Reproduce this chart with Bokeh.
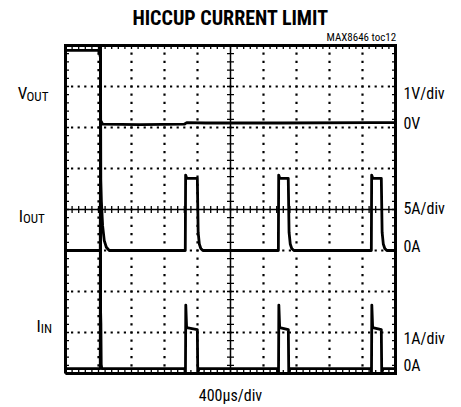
import numpy as np
from bokeh.plotting import figure
from bokeh.models import Range1d, Label
from bokeh.embed import file_html
from bokeh.resources import INLINE

# ---------------- data ----------------
US_PER_DIV = 400.0          # time base

# VOUT channel: 1V/div, 0V at division 6
VOUT_ZERO = 6.0
VOUT_SCALE = 1.0
vout_t = [0, 400, 416, 424, 426, 432, 450, 900, 1440, 1470, 1700, 2600, 3700, 4000]
vout_v = [1.88, 1.88, 1.78, 1.70, 0.05, 0.15, 0.08, 0.07, 0.08, 0.12, 0.11, 0.11, 0.12, 0.12]

# IOUT channel: 5A/div, 0A at division 3
IOUT_ZERO = 3.0
IOUT_SCALE = 5.0
iout_t = [0, 422, 424, 428, 435, 450, 470, 495, 530,
          1452, 1456, 1470, 1598, 1608, 1622, 1640, 1665,
          2580, 2584, 2598, 2700, 2710, 2724, 2742, 2768,
          3707, 3711, 3725, 3828, 3838, 3852, 3870, 3895, 4000]
iout_a = [0.0, 0.0, 25.0, 8.6, 6.0, 3.0, 1.2, 0.4, 0.0,
          0.0, 9.2, 8.8, 8.8, 2.2, 0.8, 0.25, 0.0,
          0.0, 9.2, 8.8, 8.8, 2.2, 0.8, 0.25, 0.0,
          0.0, 9.2, 8.8, 8.8, 2.2, 0.8, 0.25, 0.0, 0.0]

# IIN channel: 1A/div, 0A at division 0.12
IIN_ZERO = 0.12
IIN_SCALE = 1.0
iin_t = [0, 421, 424, 426, 429, 433, 440,
         1450, 1454, 1458, 1468, 1598, 1603, 1620,
         2578, 2582, 2586, 2596, 2701, 2706, 2723,
         3705, 3709, 3713, 3723, 3828, 3833, 3850, 4000]
iin_a = [0.0, 0.0, 7.85, 1.35, 1.1, 0.1, 0.0,
         0.0, -0.1, 1.55, 1.0, 0.95, -0.1, 0.0,
         0.0, -0.1, 1.55, 1.0, 0.95, -0.1, 0.0,
         0.0, -0.1, 1.55, 1.0, 0.95, -0.1, 0.0, 0.0]

title_text = "HICCUP CURRENT LIMIT"
tag_text = "MAX8646 toc12"
channel_names = [("V", "OUT"), ("I", "OUT"), ("I", "IN")]
scale_labels = ["1V/div", "5A/div", "1A/div"]
zero_labels = ["0V", "0A", "0A"]
time_label = "400\u00b5s/div"

# ---------------- figure ----------------
FONT = "Liberation Sans Narrow, Arial Narrow, Roboto Condensed, sans-serif"

# the frame covers the whole canvas; the scope screen is 10 x 8 divisions
PX_X = 33.0   # px per horizontal division
PX_Y = 41.0   # px per vertical division
LEFT_PX, TOP_PX = 65.0, 45.0   # screen position inside the canvas
W, H = 461, 407
x0 = -LEFT_PX / PX_X
x1 = x0 + W / PX_X
y1 = 8 + TOP_PX / PX_Y
y0 = y1 - H / PX_Y

p = figure(width=W, height=H, output_backend="svg", toolbar_location=None,
           x_range=Range1d(x0, x1), y_range=Range1d(y0, y1), min_border=0)
p.axis.visible = False
p.grid.visible = False
p.outline_line_color = None
p.background_fill_color = "white"
p.border_fill_color = "white"

# dotted graticule
steps_x = np.round(np.arange(0, 10.001, 0.2), 3)
steps_y = np.round(np.arange(0, 8.001, 0.2), 3)
gx, gy = [], []
for xi in [1, 2, 3, 4, 6, 7, 8, 9]:
    gx += [xi] * len(steps_y); gy += list(steps_y)
for yi in [1, 2, 3, 5, 6, 7]:
    gx += list(steps_x); gy += [yi] * len(steps_x)
p.scatter(gx, gy, marker="square", size=2.2, color="black", line_width=0)

# centre cross with ticks
p.line([0, 10], [4, 4], color="black", line_width=1.5)
p.line([5, 5], [0, 8], color="black", line_width=1.5)
tx = 3.5 / PX_X
ty = 3.5 / PX_Y
p.segment(x0=steps_x, y0=4 - ty, x1=steps_x, y1=4 + ty, color="black", line_width=1.3)
p.segment(x0=5 - tx, y0=steps_y, x1=5 + tx, y1=steps_y, color="black", line_width=1.3)
# border ticks
p.segment(x0=steps_x, y0=8 - ty, x1=steps_x, y1=8, color="black", line_width=1.3)
p.segment(x0=steps_x, y0=0, x1=steps_x, y1=ty, color="black", line_width=1.3)
p.segment(x0=0, y0=steps_y, x1=tx, y1=steps_y, color="black", line_width=1.3)
p.segment(x0=10 - tx, y0=steps_y, x1=10, y1=steps_y, color="black", line_width=1.3)

# traces
def to_div(t, v, zero, scale):
    return np.array(t) / US_PER_DIV, zero + np.array(v) / scale

for t, v, z, s in [(vout_t, vout_v, VOUT_ZERO, VOUT_SCALE),
                   (iout_t, iout_a, IOUT_ZERO, IOUT_SCALE),
                   (iin_t, iin_a, IIN_ZERO, IIN_SCALE)]:
    xs, ys = to_div(t, v, z, s)
    p.line(xs, ys, color="black", line_width=2.8, line_join="round")

# screen border
p.line([0, 10, 10, 0, 0], [0, 0, 8, 8, 0], color="black", line_width=3, line_join="miter")

# ---------------- texts ----------------
def lab(x, y, text, size, align="left", baseline="middle", style="normal", font=FONT):
    p.add_layout(Label(x=x, y=y, text=text, text_font=font, text_font_size=f"{size}px",
                       text_align=align, text_baseline=baseline, text_font_style=style,
                       text_color="black"))

lab(5.0, 8.67, title_text, 20, align="center", style="bold")
lab(10.02, 8.2, tag_text, 11, align="right", baseline="middle")

# channel names (left)
name_pos = [(-1.45, 6.83), (-1.42, 3.85), (-0.88, 1.17)]
for (main, sub), (x, y) in zip(channel_names, name_pos):
    lab(x, y, main, 17, align="left", baseline="alphabetic")
    dx = 0.27 if main == "V" else 0.13
    lab(x + dx, y - 0.07, sub, 13, align="left", baseline="alphabetic")

# scale and zero labels (right)
scale_y = [6.83, 4.02, 0.85]
zero_y = [6.1, 3.1, 0.2]
for s, y in zip(scale_labels, scale_y):
    lab(10.24, y, s, 16)
for s, y in zip(zero_labels, zero_y):
    lab(10.24, y, s, 16)

lab(5.0, -0.54, time_label, 16, align="center")

open("out.html", "w").write(file_html(p, INLINE))
